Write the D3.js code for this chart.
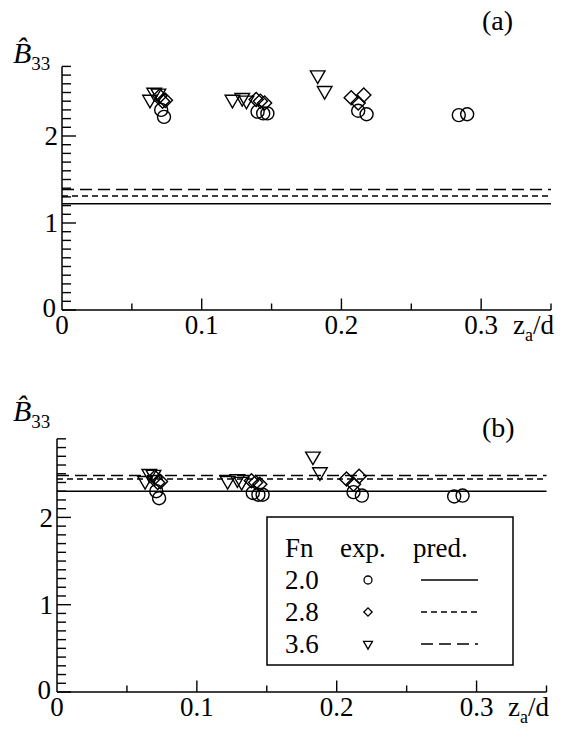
<!DOCTYPE html>
<html>
<head>
<meta charset="utf-8">
<script src="https://cdn.jsdelivr.net/npm/d3@7"></script>
<style>
  body { margin: 0; background: #fff; }
</style>
</head>
<body>
<svg id="chart" width="563" height="731" font-family="'Liberation Serif', 'Times New Roman', Times, serif"></svg>
<script>
// experimental points (same measurements in both panels)
const circX = [0.071, 0.073, 0.140, 0.144, 0.147, 0.212, 0.218, 0.284, 0.290];
const circY = [2.30, 2.22, 2.28, 2.26, 2.26, 2.29, 2.25, 2.24, 2.25];
const diamX = [0.070, 0.072, 0.074, 0.139, 0.142, 0.145, 0.207, 0.212, 0.216];
const diamY = [2.46, 2.40, 2.41, 2.42, 2.40, 2.38, 2.44, 2.38, 2.47];
const triX = [0.063, 0.066, 0.069, 0.122, 0.129, 0.132, 0.183, 0.188];
const triY = [2.42, 2.50, 2.49, 2.42, 2.44, 2.41, 2.70, 2.52];

// predictions per Fn, panel (a) and (b)
const fnLabels = ["2.0", "2.8", "3.6"];
const predA = [1.22, 1.31, 1.385];
const predB = [2.30, 2.44, 2.48];

const xTicks = [0, 0.1, 0.2, 0.3];
const yTicks = [0, 1, 2];

const dashes = [null, "6,4", "12,6"];
const shapes = ["circle", "diamond", "triangle"];

const svg = d3.select("#chart");
const serif = "'Liberation Serif', 'Times New Roman', Times, serif";

function markerPath(shape, big) {
    if (shape === "circle") return d3.symbol(d3.symbolCircle, big ? 133 : 50)();
    if (shape === "diamond") return d3.symbol(d3.symbolSquare, big ? 100 : 34)();
    return d3.symbol(d3.symbolTriangle, big ? 92 : 34)();
}
function markerRot(shape) {
    if (shape === "diamond") return " rotate(45)";
    if (shape === "triangle") return " rotate(180)";
    return "";
}

function drawPanel(o) {
    const g = svg.append("g");
    const x = d3.scaleLinear().domain([0, 0.35]).range([o.x0, o.x1]);
    const y = d3.scaleLinear().domain([0, o.yMax]).range([o.y0, o.y0 - o.yMax * o.unit]);

    // prediction lines
    g.selectAll(".pred")
        .data(o.pred)
        .enter()
        .append("line")
        .attr("x1", x(0))
        .attr("x2", x(0.35))
        .attr("y1", d => y(d))
        .attr("y2", d => y(d))
        .attr("stroke", "#000")
        .attr("stroke-width", 1.5)
        .attr("stroke-dasharray", (d, i) => dashes[i]);

    // y axis with minor ticks
    const yAxis = g.append("g");
    yAxis.append("line")
        .attr("x1", x(0)).attr("x2", x(0))
        .attr("y1", y(0)).attr("y2", y(o.yMax))
        .attr("stroke", "#000").attr("stroke-width", 1.5);
    const yMinor = d3.range(0, Math.round(o.yMax * 10) + 1).map(i => i / 10);
    yAxis.selectAll(".ytick")
        .data(yMinor)
        .enter()
        .append("line")
        .attr("x1", x(0))
        .attr("x2", d => x(0) + (Math.abs(d - Math.round(d)) < 1e-6 ? 14 : 9))
        .attr("y1", d => y(d))
        .attr("y2", d => y(d))
        .attr("stroke", "#000").attr("stroke-width", 1.4);
    yAxis.selectAll(".ylab")
        .data(yTicks)
        .enter()
        .append("text")
        .attr("x", d => x(0) - (d === 0 ? 6 : 4))
        .attr("y", d => y(d) - (d === 0 ? 2 : 0))
        .attr("dy", "0.34em")
        .attr("text-anchor", "end")
        .attr("font-family", serif)
        .style("font-size", "27px")
        .text(d => d);

    // x axis
    const xAxis = g.append("g");
    xAxis.append("line")
        .attr("x1", x(0)).attr("x2", x(0.35))
        .attr("y1", y(0)).attr("y2", y(0))
        .attr("stroke", "#000").attr("stroke-width", 1.5);
    const xMinor = d3.range(1, 8).map(i => i * 0.05);
    xAxis.selectAll(".xtick")
        .data(xMinor)
        .enter()
        .append("line")
        .attr("x1", d => x(d)).attr("x2", d => x(d))
        .attr("y1", y(0))
        .attr("y2", (d, i) => y(0) - (i % 2 === 1 ? 11.5 : 6.5))
        .attr("stroke", "#000").attr("stroke-width", 1.4);
    xAxis.selectAll(".xlab")
        .data(xTicks)
        .enter()
        .append("text")
        .attr("x", d => x(d))
        .attr("y", y(0) + 24)
        .attr("text-anchor", "middle")
        .attr("font-family", serif)
        .style("font-size", "27px")
        .text(d => d === 0 ? "0" : d3.format(".1f")(d));

    const xl = g.append("text")
        .attr("x", o.x0 + 451)
        .attr("y", y(0) + 24)
        .attr("font-family", serif)
        .style("font-size", "27px");
    xl.append("tspan").text("z");
    xl.append("tspan").attr("dy", 7).style("font-size", "18px").text("a");
    xl.append("tspan").attr("dy", -7).text("/d");

    // B hat 33 label (combining circumflex keeps it one text)
    const bl = g.append("text")
        .attr("x", 13)
        .attr("y", o.bY)
        .attr("font-family", serif);
    bl.append("tspan").style("font-style", "italic").style("font-size", "30px").text("B\u0302");
    bl.append("tspan").attr("dy", 7).style("font-size", "19px").text("33");

    g.append("text")
        .attr("x", 482)
        .attr("y", o.tagY)
        .attr("font-family", serif)
        .style("font-size", "28px")
        .text(o.tag);

    // experimental markers
    const sets = [
        { shape: "circle", xs: circX, ys: circY },
        { shape: "diamond", xs: diamX, ys: diamY },
        { shape: "triangle", xs: triX, ys: triY }
    ];
    sets.forEach(s => {
        g.selectAll(".m-" + s.shape)
            .data(s.xs.map((v, i) => [v, s.ys[i]]))
            .enter()
            .append("path")
            .attr("d", markerPath(s.shape, true))
            .attr("transform", d => "translate(" + x(d[0]) + "," + y(d[1]) + ")" + markerRot(s.shape))
            .attr("fill", "none")
            .attr("stroke", "#000")
            .attr("stroke-width", 1.4);
    });
}

drawPanel({ x0: 62, x1: 551, y0: 310, unit: 87, yMax: 2.8, pred: predA, bY: 63, tag: "(a)", tagY: 30 });
drawPanel({ x0: 57, x1: 546.5, y0: 692, unit: 87.3, yMax: 2.9, pred: predB, bY: 421, tag: "(b)", tagY: 437 });

// legend in panel (b)
const lg = svg.append("g");
lg.append("rect")
    .attr("x", 267).attr("y", 517)
    .attr("width", 246).attr("height", 148)
    .attr("fill", "#fff").attr("stroke", "#000").attr("stroke-width", 1.5);
const rowY = [557, 589, 621, 653];
const headers = [["Fn", 285], ["exp.", 340], ["pred.", 413]];
lg.selectAll(".hdr")
    .data(headers)
    .enter()
    .append("text")
    .attr("x", d => d[1])
    .attr("y", rowY[0])
    .attr("font-family", serif)
    .style("font-size", "27px")
    .text(d => d[0]);
fnLabels.forEach((fn, i) => {
    const ry = rowY[i + 1];
    lg.append("text")
        .attr("x", 285).attr("y", ry)
        .attr("font-family", serif)
        .style("font-size", "27px")
        .text(fn);
    lg.append("path")
        .attr("d", markerPath(shapes[i], false))
        .attr("transform", "translate(368," + (ry - 9) + ")" + markerRot(shapes[i]))
        .attr("fill", "none").attr("stroke", "#000").attr("stroke-width", 1.3);
    lg.append("line")
        .attr("x1", 421).attr("x2", 478)
        .attr("y1", ry - 9).attr("y2", ry - 9)
        .attr("stroke", "#000").attr("stroke-width", 1.3)
        .attr("stroke-dasharray", dashes[i]);
});
</script>
</body>
</html>
